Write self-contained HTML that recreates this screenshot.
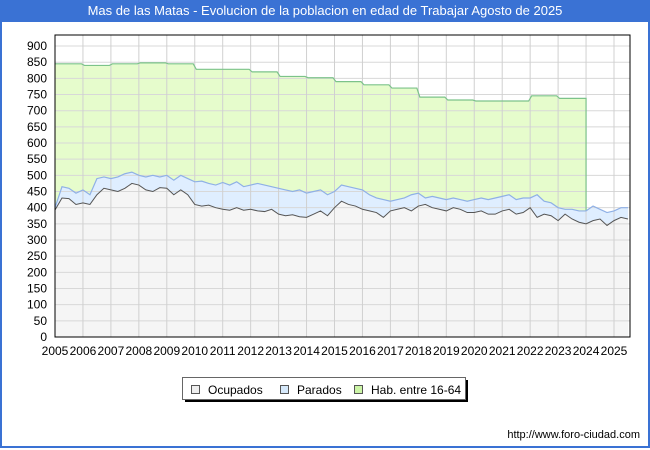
<!DOCTYPE html>
<html><head><meta charset="utf-8"><style>
body{margin:0;width:650px;height:450px;overflow:hidden;background:#fff;font-family:"Liberation Sans",sans-serif}
#frame{position:absolute;left:0;top:0;width:646px;height:446px;border:2px solid #3a72d4;border-top:none}
#title{position:absolute;left:0;top:0;width:650px;height:22px;background:#3a72d4;color:#fff;font-size:13px;line-height:22px;text-align:center}
</style></head><body>
<div id="frame"></div>
<div id="title">Mas de las Matas - Evolucion de la poblacion en edad de Trabajar Agosto de 2025</div>
<svg id="chart" width="650" height="450" style="position:absolute;left:0;top:0"></svg>
<script>
const ocupados=[393,430,428,410,415,410,440,460,455,450,460,475,470,455,450,462,460,440,455,440,410,405,408,400,395,392,400,392,395,390,388,395,380,375,378,372,370,380,390,375,400,420,410,405,395,390,385,370,390,395,400,390,405,410,400,395,390,400,395,385,385,390,380,380,390,395,380,385,400,370,380,375,360,380,365,355,350,360,365,345,360,370,365];
const activos=[400,465,460,445,455,440,490,495,490,495,505,510,500,495,500,495,500,485,500,490,480,482,475,470,478,470,480,465,470,475,470,465,460,455,450,455,445,450,455,440,450,470,465,460,455,440,430,425,420,425,430,440,445,430,435,430,425,430,425,420,425,430,425,430,435,440,425,430,430,440,420,415,400,395,395,390,390,405,395,385,390,400,400];
const parados=activos.map((a,i)=>a-ocupados[i]);
const habYears=[2005,2006,2007,2008,2009,2010,2011,2012,2013,2014,2015,2016,2017,2018,2019,2020,2021,2022,2023];
const habValues=[845,840,845,848,845,828,828,820,806,802,790,780,770,742,733,730,730,746,738];
const yTicks=[0,50,100,150,200,250,300,350,400,450,500,550,600,650,700,750,800,850,900];
const xTicks=[2005,2006,2007,2008,2009,2010,2011,2012,2013,2014,2015,2016,2017,2018,2019,2020,2021,2022,2023,2024,2025];
const NS="http://www.w3.org/2000/svg";
const svg=document.getElementById('chart');
const L=55,R=630,T=35,B=337;
const X=t=>L+(t-2005)*27.95;
const Y=v=>B-v*0.3233;
function mk(tag,attrs){const e=document.createElementNS(NS,tag);for(const k in attrs)e.setAttribute(k,attrs[k]);svg.appendChild(e);return e;}
let bg=mk('rect',{x:L,y:T,width:R-L,height:B-T,fill:'#fff'});


const tq=i=>2005+i*0.25;
// hab area
let hp='';
habYears.forEach((y,i)=>{const x0=X(y)+(i?1.5:0),x1=X(y+1)-1.5;hp+=(i?'L':'M')+x0+','+Y(habValues[i])+'L'+x1+','+Y(habValues[i]);});
let habLast=X(2024);
hp+='L'+habLast+','+Y(habValues[habValues.length-1]);
let habFill=hp+'L'+habLast+','+Y(activos[76])+'L'+X(2024)+','+B+'L'+L+','+B+'Z';
let ha=mk('path',{d:habFill,fill:'#e6fccc',stroke:'none'});


// activos area
let ap=activos.map((v,i)=>(i?'L':'M')+X(tq(i))+','+Y(v)).join('');
let aa=mk('path',{d:ap+'L'+X(tq(activos.length-1))+','+B+'L'+L+','+B+'Z',fill:'#dfeeff'});


let op=ocupados.map((v,i)=>(i?'L':'M')+X(tq(i))+','+Y(v)).join('');
let oa=mk('path',{d:op+'L'+X(tq(ocupados.length-1))+','+B+'L'+L+','+B+'Z',fill:'#f5f5f5'});


// grid
yTicks.forEach(v=>{let g=mk('line',{x1:L,x2:R,y1:Y(v),y2:Y(v),stroke:'#d8d8d8','stroke-width':1});


let t=mk('text',{x:47,y:Y(v)+4,'text-anchor':'end','font-size':12,fill:'#000'});t.textContent=v;

});
xTicks.forEach(y=>{let g=mk('line',{x1:X(y),x2:X(y),y1:T,y2:B,stroke:'#d0d0d0','stroke-width':1});


let t=mk('text',{x:X(y),y:355,'text-anchor':'middle','font-size':12,fill:'#000'});t.textContent=y;

});
// lines
let hl=mk('path',{d:hp+'L'+habLast+','+Y(activos[76]),fill:'none',stroke:'#7cc38a','stroke-width':1.2});


let al=mk('path',{d:ap,fill:'none',stroke:'#8fb0e6','stroke-width':1.2});


let ol=mk('path',{d:op,fill:'none',stroke:'#555','stroke-width':1});


let ax=mk('path',{d:`M${L},${T}V${B}H${R}V${T}Z`,fill:'none',stroke:'#000','stroke-width':1});


// legend
let lg=mk('rect',{x:185,y:380,width:283,height:22,fill:'#000'});


let lb=mk('rect',{x:182.5,y:377.5,width:283,height:22,fill:'#fff',stroke:'#666'});


[['Ocupados','#eeeeee',191],['Parados','#d6e9fb',280],['Hab. entre 16-64','#ccf5a6',354]].forEach(([n,c,x])=>{
let s=mk('rect',{x:x+0.5,y:385.5,width:8,height:8,fill:c,stroke:'#555'});


let t=mk('text',{x:x+17,y:394,'font-size':12,fill:'#000'});t.textContent=n;

});
let u=mk('text',{x:640,y:438,'text-anchor':'end','font-size':11,fill:'#000'});u.textContent='http://www.foro-ciudad.com';


</script>
</body></html>
